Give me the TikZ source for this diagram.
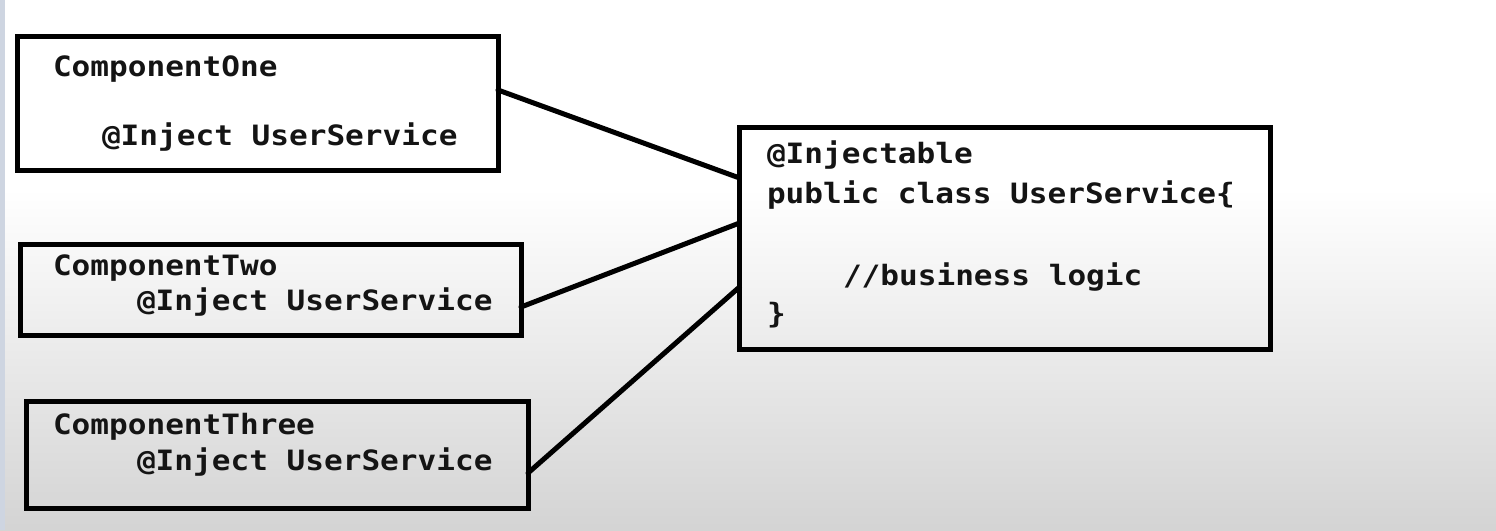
\documentclass[tikz,border=0pt]{standalone}
\usepackage{fontspec}
\newfontfamily\codefont{DejaVu Sans Mono}[FakeStretch=1.11]
\definecolor{edgestrip}{RGB}{206,213,225}
\tikzset{
  box/.style={draw=black, line width=5pt, rectangle, inner sep=0pt, outer sep=0pt},
  code/.style={anchor=base west, inner sep=0pt, outer sep=0pt, text=black!92,
    font=\codefont\bfseries\fontsize{28}{34}\selectfont},
  link/.style={draw=black, line width=5pt, line cap=round}
}
\begin{document}
\begin{tikzpicture}[x=1pt,y=-1pt]
% background
\useasboundingbox (0,0) rectangle (1496,530);
\fill[white] (0,0) rectangle (1496,190);
\shade[top color=white, bottom color=black!17] (0,189) rectangle (1496,530);
\fill[edgestrip] (0,0) rectangle (5,530);
% boxes
\node[box, minimum width=481pt, minimum height=134.5pt] (b1) at (257.5,103.25) {};
\node[box, minimum width=501pt, minimum height=91.5pt] (b2) at (270.5,289.75) {};
\node[box, minimum width=502pt, minimum height=107pt] (b3) at (277,454.5) {};
\node[box, minimum width=530.5pt, minimum height=222pt] (b4) at (1004.75,238.5) {};
% texts
\node[code] (t1a) at (53,76) {ComponentOne};
\node[code] (t1b) at (102,145) {@Inject UserService};
\node[code] (t2a) at (53,275) {ComponentTwo};
\node[code] (t2b) at (137,310) {@Inject UserService};
\node[code] (t3a) at (53,434) {ComponentThree};
\node[code] (t3b) at (137,470) {@Inject UserService};
\node[code] (t4a) at (767,163) {@Injectable};
\node[code] (t4b) at (767,203) {public class UserService\{};
\node[code] (t4c) at (843,285) {//business logic};
\node[code] (t4d) at (767,323) {\}};
% connectors
\draw[link] (b1.east |- 0,90) -- (b4.west |- 0,178);
\draw[link] (b2.east |- 0,307) -- (b4.west |- 0,223);
\draw[link] (b3.east |- 0,473) -- (b4.west |- 0,287);
\end{tikzpicture}
\end{document}
